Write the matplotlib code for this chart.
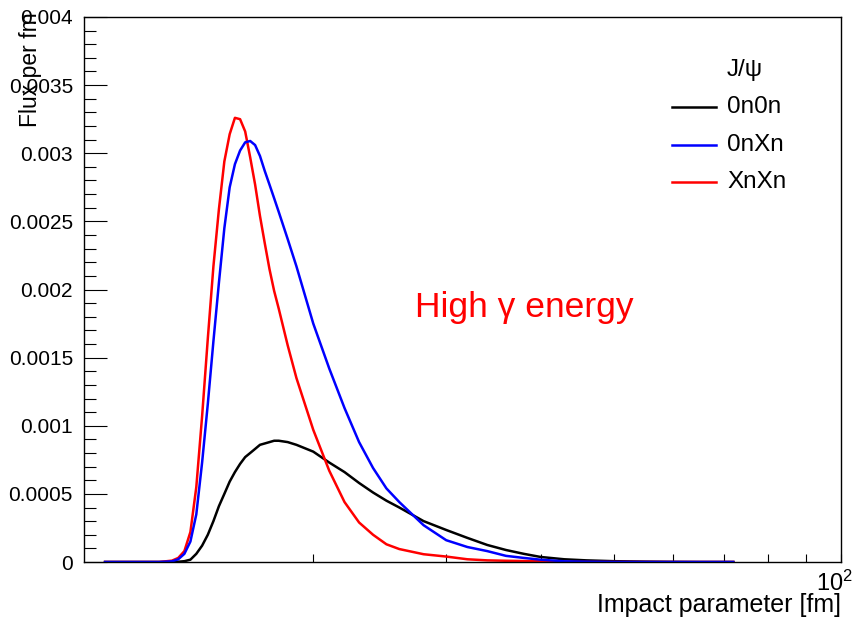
import matplotlib
matplotlib.use("Agg")
import matplotlib.pyplot as plt
import matplotlib.transforms as mtransforms
from matplotlib.ticker import FixedLocator, NullFormatter, MultipleLocator
from matplotlib.lines import Line2D

plt.rcParams['font.family'] = ['Liberation Sans', 'DejaVu Sans']
plt.rcParams['mathtext.fontset'] = 'custom'
plt.rcParams['mathtext.rm'] = 'Liberation Sans'
plt.rcParams['mathtext.it'] = 'Liberation Sans:italic'

# ---- data ----
b_fm = [10.6, 12.5, 13.0, 13.25, 13.5, 13.75, 14.0, 14.25, 14.5, 14.75,
        15.0, 15.25, 15.5, 15.75, 16.0, 16.25, 16.5, 16.75, 17.0, 17.25,
        17.5, 17.75, 18.0, 18.5, 19, 20, 21, 22, 23, 24,
        25, 26, 28, 30, 32, 34, 36, 38, 40, 43,
        46, 50, 55, 60, 65, 72]

flux_0n0n = [0, 0, 0, 0.000002, 0.000006, 0.000017, 0.00006, 0.00012, 0.0002, 0.0003,
             0.00041, 0.0005, 0.00059, 0.00066, 0.00072, 0.00077, 0.0008, 0.00083, 0.00086, 0.00087,
             0.00088, 0.00089, 0.00089, 0.00088, 0.00086, 0.00081, 0.00073, 0.00066, 0.00058, 0.00051,
             0.00045, 0.0004, 0.0003, 0.000235, 0.000177, 0.000125, 0.000088, 0.00006, 0.000037, 0.00002,
             0.000012, 0.000006, 0.000003, 0.000001, 0, 0]

flux_0nXn = [0, 0, 0.000005, 0.00002, 0.00006, 0.00015, 0.00035, 0.00073, 0.00116, 0.00162,
             0.00205, 0.00245, 0.00275, 0.00292, 0.00302, 0.00308, 0.00309, 0.00306, 0.00298, 0.00287,
             0.00277, 0.00267, 0.00257, 0.00237, 0.00217, 0.00175, 0.00142, 0.00113, 0.00088, 0.00069,
             0.00054, 0.00044, 0.00027, 0.00016, 0.00011, 0.00008, 0.000045, 0.00003, 0.000017, 0.000005,
             0.000002, 0, 0, 0, 0, 0]

flux_XnXn = [0, 0, 0.00001, 0.00003, 0.00008, 0.00022, 0.00055, 0.00107, 0.00164, 0.00217,
             0.00259, 0.00294, 0.00314, 0.00326, 0.00325, 0.00316, 0.00297, 0.00277, 0.00254, 0.00234,
             0.00215, 0.00199, 0.00186, 0.00159, 0.00135, 0.00097, 0.00067, 0.00044, 0.00029, 0.0002,
             0.00013, 0.000095, 0.000057, 0.00004, 0.00002, 0.000012, 0.000009, 0.000007, 0.000005, 0,
             0, 0, 0, 0, 0, 0]

series_labels = ["0n0n", "0nXn", "XnXn"]
series_colors = ["black", "#0000ff", "#ff0000"]
legend_title = "J/\u03c8"

y_ticks = [0, 0.0005, 0.001, 0.0015, 0.002, 0.0025, 0.003, 0.0035, 0.004]
y_tick_labels = ["0", "0.0005", "0.001", "0.0015", "0.002", "0.0025", "0.003", "0.0035", "0.004"]
x_major_ticks = [100]
x_major_labels = ["$10^{2}$"]
x_minor_ticks = [20, 30, 40, 50, 60, 70, 80, 90]

# ---- figure ----
W, H = 860, 620
fig = plt.figure(figsize=(W / 100, H / 100), dpi=100)
ax = fig.add_axes([84 / W, 58 / H, 757 / W, 545 / H])

series = [flux_0n0n, flux_XnXn, flux_0nXn]
order_labels = [series_labels[0], series_labels[2], series_labels[1]]
order_colors = [series_colors[0], series_colors[2], series_colors[1]]
for vals, lab, col in zip(series, order_labels, order_colors):
    ax.plot(b_fm, vals, color=col, lw=1.8, label=lab)

ax.set_xscale('log')
ax.set_xlim(9.94, 100)
ax.set_ylim(0, 0.004)

ax.xaxis.set_major_locator(FixedLocator(x_major_ticks))
ax.set_xticklabels(x_major_labels)
ax.xaxis.set_minor_locator(FixedLocator(x_minor_ticks))
ax.xaxis.set_minor_formatter(NullFormatter())
ax.tick_params(axis='x', which='both', direction='in', length=6, width=0.8,
               top=False, labelsize=17, pad=6)
shift = mtransforms.ScaledTranslation(-7 / 100, 0, fig.dpi_scale_trans)
for t in ax.get_xticklabels():
    t.set_transform(t.get_transform() + shift)

ax.set_yticks(y_ticks)
ax.set_yticklabels(y_tick_labels)
ax.yaxis.set_minor_locator(MultipleLocator(0.0001))
ax.tick_params(axis='y', which='major', direction='in', length=16.5, width=0.8,
               right=False, labelsize=15, pad=8)
ax.tick_params(axis='y', which='minor', direction='in', length=8.5, width=0.8, right=False)

for s in ax.spines.values():
    s.set_linewidth(1.0)

fig.text(841 / W, 1 - 605 / H, "Impact parameter [fm]", ha='right', va='center', fontsize=18)
fig.text(31 / W, 1 - 12 / H, "Flux per fm", ha='center', va='top', rotation=90, fontsize=16.5)

# legend
fig.text(727 / W, 1 - 70 / H, legend_title, ha='left', va='center', fontsize=17.5)
leg_y = [107, 145, 182]
for lab, col, yy in zip(series_labels, series_colors, leg_y):
    fig.add_artist(Line2D([672 / W, 716 / W], [1 - yy / H, 1 - yy / H], color=col, lw=1.8))
    fig.text(727 / W, 1 - yy / H, lab, ha='left', va='center', fontsize=17.5)

fig.text(415 / W, 1 - 317 / H, "High \u03b3 energy", color='#ff0000', ha='left',
         va='baseline', fontsize=25.5)

fig.savefig("out.png", dpi=100)
